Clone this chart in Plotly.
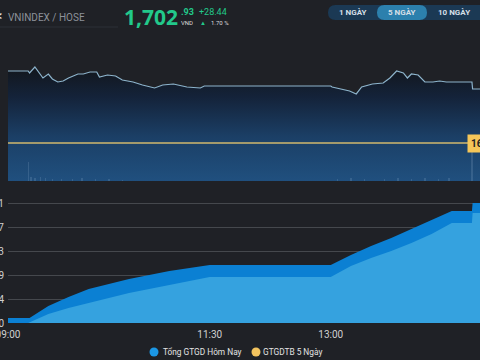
import plotly.graph_objects as go

DAY = "2025-08-21 "

# ---- Top chart: VNINDEX intraday ----
idx_times = ["09:00", "09:15", "09:16", "09:20", "09:26", "09:30", "09:33", "09:37", "09:41", "09:45",
             "09:52", "09:56", "10:01", "10:06", "10:08", "10:14", "10:20", "10:25", "10:33", "10:40",
             "10:49", "10:55", "11:03", "11:13", "11:23", "11:26", "11:30", "13:00", "13:01", "13:07",
             "13:14", "13:19", "13:23", "13:31", "13:39", "13:44", "13:49", "13:54", "13:57", "14:00",
             "14:05", "14:10", "14:16", "14:21", "14:26", "14:30", "14:45", "14:45:30", "14:51"]
idx_values = [1712.41, 1712.41, 1711.36, 1714.52, 1708.72, 1710.83, 1708.20, 1706.62, 1707.14, 1708.72,
              1710.83, 1710.83, 1711.88, 1711.88, 1709.25, 1710.30, 1709.78, 1707.67, 1706.62, 1705.04,
              1703.46, 1705.04, 1705.56, 1703.98, 1703.46, 1704.51, 1704.51, 1704.51, 1703.98, 1702.93,
              1701.88, 1700.30, 1703.98, 1705.56, 1706.09, 1708.72, 1712.41, 1711.36, 1708.72, 1710.83,
              1710.30, 1706.62, 1706.62, 1707.14, 1706.62, 1706.62, 1706.62, 1702.93, 1702.93]
ref_price = 1674.49

vol_times = ["09:15", "09:17", "09:20", "09:24", "09:28", "09:33", "09:40", "09:48", "09:55", "10:05",
             "10:15", "10:25", "13:05", "13:15", "13:25", "13:40", "13:50", "14:00", "14:10", "14:20",
             "14:28", "14:45"]
vol_values = [19, 4, 3, 4, 3, 2, 2, 2, 3, 2, 2, 1, 2, 3, 2, 2, 3, 2, 3, 2, 3, 38]

# ---- Bottom chart: cumulative trading value ----
tot_times = ["09:00", "09:15", "09:16", "09:30", "09:45", "10:00", "10:15", "10:30", "10:45", "11:00",
             "11:15", "11:30", "13:00", "13:15", "13:30", "13:45", "14:00", "14:15", "14:30", "14:45",
             "14:45:30", "14:51"]
tot_values = [903, 903, 903, 3070, 4696, 6140, 7044, 7946, 8669, 9391,
              9933, 10475, 10475, 12281, 13906, 15351, 16976, 18602, 20227, 20227,
              21671, 21671]
part_times = ["09:15", "09:30", "09:45", "10:00", "10:15", "10:30", "10:45", "11:00", "11:15", "11:30",
              "13:00", "13:15", "13:30", "13:45", "14:00", "14:15", "14:30", "14:45", "14:45:30", "14:51"]
part_values = [0, 1625, 2709, 3612, 4515, 5418, 6140, 6863, 7585, 8308,
               8308, 10294, 11739, 13003, 14448, 16073, 18060, 18060, 19867, 19867]

y_tickvals = [0, 4334, 8669, 13003, 17337, 21671]
y_ticktext = ["0", "4,334", "8,669", "13,003", "17,337", "21,671"]
x_tickvals = ["09:00", "11:30", "13:00"]

legend_names = ["Tổng GTGD Hôm Nay", "GTGDTB 5 Ngày"]
legend_colors = ["#1b97e5", "#f3c45f"]


def T(s):
    return DAY + s


W, H, ML = 480, 360, 8


def px(x):
    return (x - ML) / (W - ML)


def py(y):
    return (H - y) / H


BG = "#1f2126"
GREEN = "#22c98b"

fig = go.Figure()

# top chart traces
fig.add_trace(go.Bar(
    x=[T(t) for t in vol_times], y=vol_values, xaxis="x2", yaxis="y3",
    marker=dict(color="rgba(150,180,210,0.2)", line=dict(width=0)),
    width=60000, showlegend=False, hoverinfo="skip"))
fig.add_trace(go.Scatter(
    x=[T(t) for t in idx_times], y=idx_values, xaxis="x2", yaxis="y2",
    mode="lines", line=dict(color="#8db4cc", width=1.2),
    fill="tozeroy",
    fillgradient=dict(type="vertical", start=1654.48, stop=1714,
                      colorscale=[[0, "#20507f"], [0.4, "#1b3f66"], [0.75, "#14233a"], [1, "#12171e"]]),
    showlegend=False, name="VNINDEX"))

# bottom chart areas
fig.add_trace(go.Scatter(
    x=[T(t) for t in tot_times], y=tot_values, mode="lines",
    line=dict(color="#0b80d3", width=0), fill="tozeroy", fillcolor="#0b80d3",
    name=legend_names[0], showlegend=False))
fig.add_trace(go.Scatter(
    x=[T(t) for t in part_times], y=part_values, mode="lines",
    line=dict(color="#35a2df", width=0), fill="tozeroy", fillcolor="#35a2df",
    showlegend=False))

shapes = []
annotations = []

# yellow reference line
shapes.append(dict(type="line", xref="paper", yref="y2", x0=0, x1=1, y0=ref_price, y1=ref_price,
                   line=dict(color="#a39a6c", width=2)))
annotations.append(dict(xref="paper", yref="y2", x=px(467), y=ref_price, xanchor="left", yanchor="middle",
                        text="<b>%.2f</b>" % ref_price, showarrow=False, bgcolor="#f5c659",
                        font=dict(size=10, color="#222222", family="Roboto"), borderpad=3))

# header
shapes.append(dict(type="line", xref="paper", yref="paper", x0=px(0), x1=px(118), y0=py(27), y1=py(27),
                   line=dict(color="#2c3036", width=1)))


def rrect(x0, y0, x1, y1, r):
    X0, X1 = px(x0), px(x1)
    Y0, Y1 = py(y0), py(y1)
    rx = r / (W - ML)
    ry = r / H
    return (f"M {X0+rx},{Y0} L {X1-rx},{Y0} Q {X1},{Y0} {X1},{Y0-ry} L {X1},{Y1+ry} "
            f"Q {X1},{Y1} {X1-rx},{Y1} L {X0+rx},{Y1} Q {X0},{Y1} {X0},{Y1+ry} "
            f"L {X0},{Y0-ry} Q {X0},{Y0} {X0+rx},{Y0} Z")


shapes.append(dict(type="path", xref="paper", yref="paper", path=rrect(328, 5, 500, 20, 7.5),
                   fillcolor="#1b3954", line=dict(width=0)))
shapes.append(dict(type="path", xref="paper", yref="paper", path=rrect(377, 5, 427, 20, 7.5),
                   fillcolor="#2c80ad", line=dict(width=0)))

for label, cx in [("1 NGÀY", 353), ("5 NGÀY", 402), ("10 NGÀY", 454)]:
    annotations.append(dict(xref="paper", yref="paper", x=px(cx), y=py(12.5), xanchor="center",
                            yanchor="middle", text="<b>%s</b>" % label, showarrow=False,
                            font=dict(size=8, color="#d5dfe7", family="Roboto")))


def txt(x, y, s, size, color, anchor="left", bold=False, family="Roboto"):
    annotations.append(dict(xref="paper", yref="paper", x=px(x), y=py(y), xanchor=anchor,
                            yanchor="middle", text=("<b>%s</b>" % s) if bold else s, showarrow=False,
                            font=dict(size=size, color=color, family=family)))


txt(4, 16, "<", 12, "#dddddd", "right", True)
txt(6, 17, "VNINDEX / HOSE", 10, "#8c9199")
txt(122, 17, "1,702", 21, GREEN, "left", True, "Open Sans")
txt(179, 12, ".93", 9, GREEN, "left", True)
txt(179, 22, "VND", 6, "#dddddd")
txt(197, 12, "+28.44", 9, GREEN)
txt(198, 22, "▲", 6, GREEN)
txt(209, 22, "1.70 %", 6, "#dddddd")

# manual legend
for (name, color, cx, tx) in [(legend_names[0], legend_colors[0], 154, 161),
                              (legend_names[1], legend_colors[1], 256, 261)]:
    shapes.append(dict(type="circle", xref="paper", yref="paper", x0=px(cx - 4.5), x1=px(cx + 4.5),
                       y0=py(356.5), y1=py(347.5), fillcolor=color, line=dict(width=0)))
    txt(tx, 352, name, 8.3, "#e3e3e3")

fig.update_layout(
    width=W, height=H,
    margin=dict(l=ML, r=0, t=0, b=0),
    paper_bgcolor=BG, plot_bgcolor=BG,
    showlegend=False,
    shapes=shapes, annotations=annotations,
    bargap=0,
    xaxis=dict(domain=[0, 1], anchor="y", type="date", range=[T("09:00"), T("14:51")],
               tickvals=[T(t) for t in x_tickvals], tickformat="%H:%M",
               showgrid=False, zeroline=False, showline=False, ticks="",
               ticklabeloverflow="allow", ticklabelstandoff=4,
               tickfont=dict(size=10, color="#d0d0d0", family="Roboto"), automargin=False),
    yaxis=dict(domain=[py(323), py(183)], anchor="x", range=[0, 25283],
               tickvals=y_tickvals, ticktext=y_ticktext, gridcolor="#45484d", gridwidth=1,
               zeroline=False, showline=False, ticks="", ticklabeloverflow="allow",
               ticklabelstandoff=3,
               tickfont=dict(size=10, color="#d0d0d0", family="Roboto"), automargin=False),
    xaxis2=dict(domain=[0, 1], anchor="y2", type="date", range=[T("09:00"), T("14:51")],
                visible=False, matches="x"),
    yaxis2=dict(domain=[py(181), py(60)], anchor="x2", range=[1654.48, 1718.2], visible=False),
    yaxis3=dict(overlaying="y2", range=[0, 121], visible=False),
)

fig.write_html("out.html", config={"displayModeBar": False},
               post_script="document.body.style.margin='0';document.body.style.overflow='hidden';")
